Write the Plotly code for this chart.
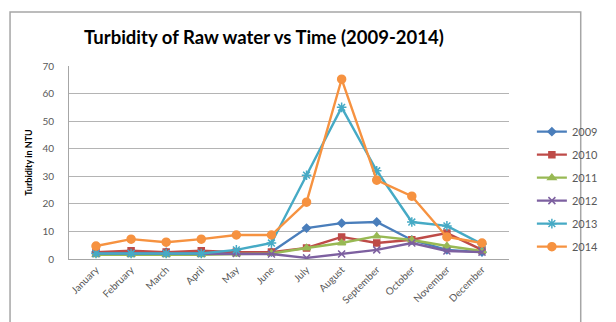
import plotly.graph_objects as go

months = ["January", "February", "March", "April", "May", "June", "July",
          "August", "September", "October", "November", "December"]

turb_2009 = [2.5, 2.5, 2.5, 2.5, 2.5, 2.5, 11.2, 13.0, 13.4, 6.9, 3.3, 2.5]
turb_2010 = [2.5, 3.0, 2.5, 3.0, 2.5, 2.5, 4.0, 8.0, 5.8, 7.0, 9.4, 3.3]
turb_2011 = [1.5, 1.5, 1.5, 1.5, 1.8, 2.0, 4.0, 5.8, 8.3, 6.9, 4.7, 2.9]
turb_2012 = [2.0, 2.0, 2.0, 2.0, 2.0, 1.8, 0.4, 1.8, 3.3, 5.8, 2.9, 2.5]
turb_2013 = [2.0, 2.0, 2.0, 2.0, 3.3, 5.8, 30.4, 55.0, 32.0, 13.4, 12.0, 5.4]
turb_2014 = [4.7, 7.2, 6.1, 7.2, 8.7, 8.7, 20.6, 65.2, 28.6, 22.8, 8.0, 5.8]

series = [
    ("2009", turb_2009, "#4A7EBB", "diamond", 6),
    ("2010", turb_2010, "#BE4B48", "square", 6),
    ("2011", turb_2011, "#98B954", "triangle-up", 7),
    ("2012", turb_2012, "#7D60A0", "x-thin", 7),
    ("2013", turb_2013, "#46AAC5", "asterisk", 8),
    ("2014", turb_2014, "#F69240", "circle", 8),
]

fig = go.Figure()
for name, vals, color, symbol, size in series:
    fig.add_trace(go.Scatter(
        x=months, y=vals, name=name, mode="lines+markers",
        legendgroup=name,
        line=dict(color=color, width=2.4),
        marker=dict(symbol=symbol, size=size, color=color,
                    line=dict(color=color, width=1.5)),
    ))

fig.update_layout(
    width=616, height=322,
    margin=dict(l=69, r=82, t=66, b=63),
    paper_bgcolor="white", plot_bgcolor="white",
    font=dict(family="Lato, 'Open Sans', sans-serif", color="#595959", size=10),
    title=dict(text="<b>Turbidity of Raw water vs Time (2009-2014)</b>",
               xref="paper", x=0.443, xanchor="center",
               y=0.885, yanchor="middle",
               font=dict(size=18.5, color="#000000")),
    showlegend=True,
    legend=dict(x=1.052, xanchor="left", y=0.735, yanchor="top",
                traceorder="grouped", tracegroupgap=4,
                font=dict(size=11, color="#595959"),
                itemwidth=30, bgcolor="rgba(0,0,0,0)"),
    xaxis=dict(tickangle=-45, showgrid=False, showline=True,
               linecolor="#A6A6A6", linewidth=1, ticks="",
               tickfont=dict(size=10, color="#595959"), fixedrange=True),
    yaxis=dict(range=[0, 70], dtick=10, showgrid=True, gridcolor="#B4B4B4",
               gridwidth=1, showline=True, linecolor="#A6A6A6", zeroline=False,
               ticks="", ticklabelstandoff=12,
               tickfont=dict(size=10, color="#595959"),
               title=dict(text="<b>Turbidity in NTU</b>", standoff=8,
                          font=dict(size=9, color="#000000"))),
    shapes=[dict(type="rect", xref="paper", yref="paper",
                 x0=-0.134, x1=1.163, y0=-0.4, y1=1.28,
                 line=dict(color="#A6A6A6", width=1.5), layer="below")],
)

fig.write_html("out.html")
